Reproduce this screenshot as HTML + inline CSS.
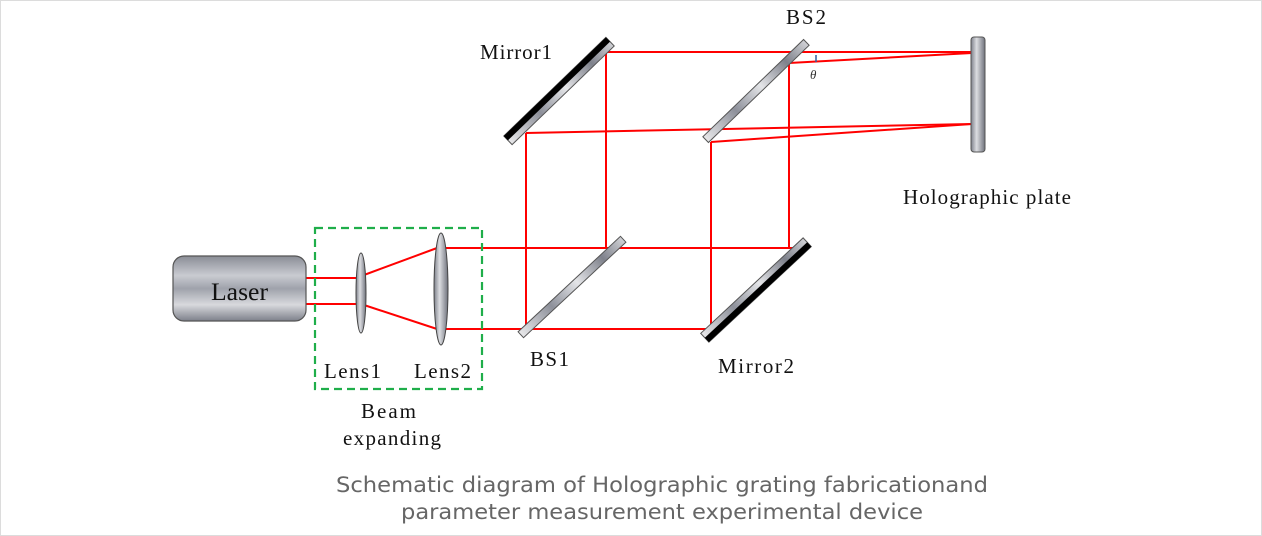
<!DOCTYPE html>
<html><head><meta charset="utf-8"><style>
html,body{margin:0;padding:0;background:#fff;}
svg{display:block}
</style></head><body>
<svg width="1262" height="536" viewBox="0 0 1262 536" xmlns="http://www.w3.org/2000/svg">
<defs>
<linearGradient id="gv" x1="0" y1="0" x2="0" y2="1">
<stop offset="0" stop-color="#8a8d96"/><stop offset="0.3" stop-color="#c9cbd1"/><stop offset="0.5" stop-color="#9fa2ab"/><stop offset="0.75" stop-color="#d8d9dd"/><stop offset="1" stop-color="#7d808a"/>
</linearGradient>
<linearGradient id="gh" x1="0" y1="0" x2="1" y2="0">
<stop offset="0" stop-color="#7d808a"/><stop offset="0.4" stop-color="#dcdde1"/><stop offset="1" stop-color="#6f727c"/>
</linearGradient>
<linearGradient id="gm" x1="0" y1="0" x2="1" y2="0">
<stop offset="0" stop-color="#e8e8ea"/><stop offset="0.3" stop-color="#8d909a"/><stop offset="0.55" stop-color="#e4e5e8"/><stop offset="0.8" stop-color="#7e818b"/><stop offset="1" stop-color="#d0d1d5"/>
</linearGradient>
</defs>
<rect x="0.5" y="0.5" width="1261" height="535" fill="#fff" stroke="#dcdcdc"/>

<g stroke="#ff0000" stroke-width="2" fill="none">
<line x1="306" y1="278" x2="358" y2="278"/>
<line x1="306" y1="304" x2="358" y2="304"/>
<line x1="364" y1="275" x2="437" y2="248"/>
<line x1="364" y1="305" x2="437" y2="329"/>
<line x1="445" y1="248" x2="797" y2="248"/>
<line x1="445" y1="329" x2="711" y2="329"/>
<line x1="526" y1="329" x2="526" y2="133"/>
<line x1="606" y1="248" x2="606" y2="52"/>
<line x1="606" y1="52" x2="972" y2="52"/>
<line x1="789" y1="248" x2="789" y2="62"/>
<line x1="789" y1="63" x2="972" y2="53"/>
<line x1="526" y1="133" x2="972" y2="124"/>
<line x1="711" y1="329" x2="711" y2="142"/>
<line x1="711" y1="142" x2="972" y2="124"/>
</g>
<line x1="816" y1="55" x2="816" y2="62" stroke="#2f5fa0" stroke-width="1.5"/>

<rect x="173" y="256" width="133" height="65" rx="11" fill="url(#gv)" stroke="#555" stroke-width="1.2"/>
<text x="239.5" y="300" font-family="Liberation Serif,serif" font-size="25" text-anchor="middle" fill="#111" textLength="57" lengthAdjust="spacingAndGlyphs">Laser</text>

<ellipse cx="361" cy="293" rx="5" ry="40" fill="url(#gh)" stroke="#444" stroke-width="1"/>
<ellipse cx="441" cy="289" rx="7" ry="56" fill="url(#gh)" stroke="#444" stroke-width="1"/>

<rect x="315" y="228" width="167" height="161" fill="none" stroke="#1fae4a" stroke-width="2.2" stroke-dasharray="8,5"/>

<g transform="translate(572,287) rotate(-43)"><rect x="-70" y="-4" width="140" height="8" fill="url(#gm)" stroke="#555" stroke-width="1"/></g>
<g transform="translate(756,91) rotate(-44)"><rect x="-70" y="-4" width="140" height="8" fill="url(#gm)" stroke="#555" stroke-width="1"/></g>
<g transform="translate(559,91) rotate(-44)"><rect x="-71" y="-6" width="142" height="12" fill="url(#gm)" stroke="#555" stroke-width="1"/><rect x="-71" y="-6" width="142" height="6" fill="#000"/></g>
<g transform="translate(756,290) rotate(-43)"><rect x="-70" y="-6" width="140" height="12" fill="url(#gm)" stroke="#555" stroke-width="1"/><rect x="-70" y="0" width="140" height="6" fill="#000"/></g>

<rect x="971" y="37" width="14" height="115" rx="3" fill="url(#gh)" stroke="#555" stroke-width="1"/>

<g font-family="Liberation Serif,serif" font-size="21" fill="#111" lengthAdjust="spacingAndGlyphs">
<text x="480" y="59" textLength="72">Mirror1</text>
<text x="786" y="24" textLength="40">BS2</text>
<text x="903" y="204" textLength="168">Holographic plate</text>
<text x="324" y="378" textLength="57">Lens1</text>
<text x="414" y="378" textLength="57">Lens2</text>
<text x="361" y="418" textLength="55">Beam</text>
<text x="343" y="445" textLength="98">expanding</text>
<text x="530" y="366" textLength="39">BS1</text>
<text x="718" y="373" textLength="76">Mirror2</text>
</g>
<text x="810" y="79" font-family="Liberation Serif,serif" font-style="italic" font-size="13" fill="#333">θ</text>

<g font-family="DejaVu Sans,Liberation Sans,sans-serif" font-size="21" fill="#666" text-anchor="middle">
<text x="662" y="492" textLength="652" lengthAdjust="spacingAndGlyphs">Schematic diagram of Holographic grating fabricationand</text>
<text x="662" y="519" textLength="522" lengthAdjust="spacingAndGlyphs">parameter measurement experimental device</text>
</g>
</svg>
</body></html>
